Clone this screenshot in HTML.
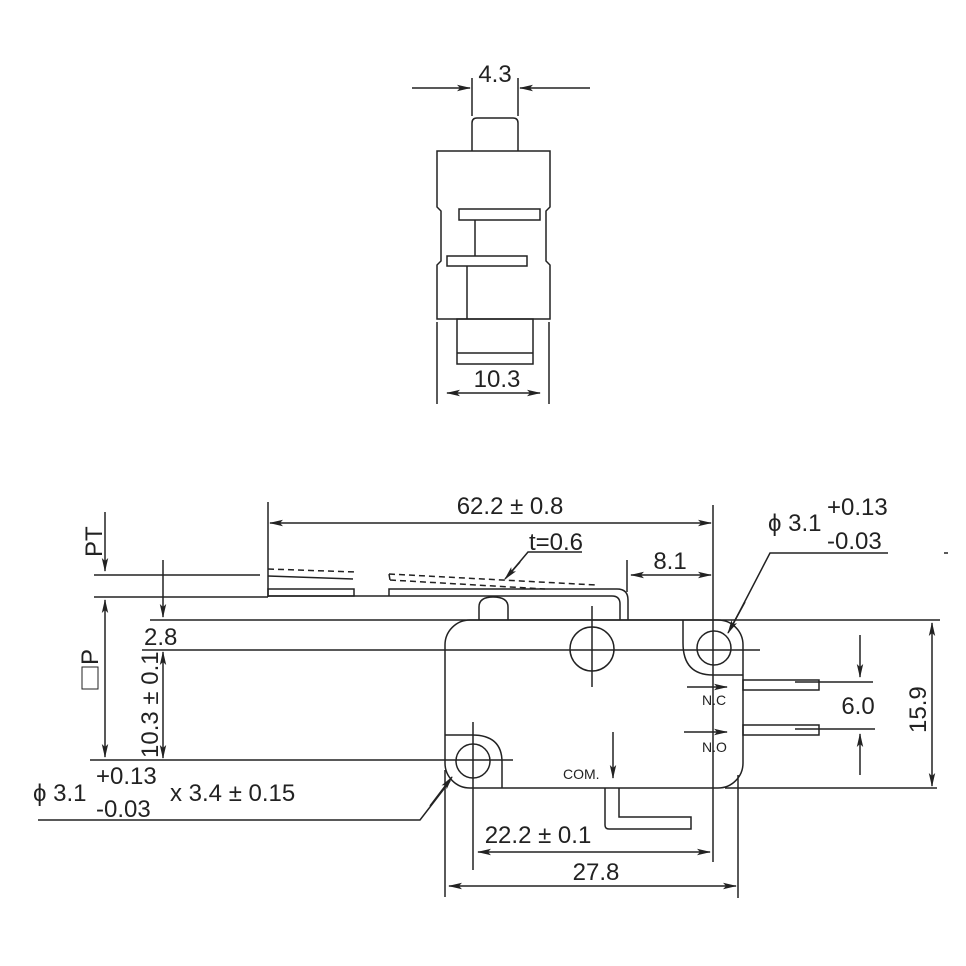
<!DOCTYPE html>
<html><head><meta charset="utf-8"><style>
html,body{margin:0;padding:0;background:#fff}
svg{display:block}
text{font-family:"Liberation Sans",Arial,sans-serif;fill:#222}
</style></head><body>
<svg width="966" height="966" viewBox="0 0 966 966" xmlns="http://www.w3.org/2000/svg">
<defs>
<marker id="a" markerWidth="14" markerHeight="8" refX="13" refY="4" orient="auto-start-reverse" markerUnits="userSpaceOnUse">
<path d="M0,0.8 L14,4 L0,7.2 L3,4 Z" fill="#222"/></marker>
</defs>
<g stroke="#222" stroke-width="1.5" fill="none">
<!-- TOP VIEW -->
<line x1="412" y1="88" x2="470" y2="88" marker-end="url(#a)"/>
<line x1="590" y1="88" x2="520" y2="88" marker-end="url(#a)"/>
<line x1="472" y1="78" x2="472" y2="116"/>
<line x1="518" y1="78" x2="518" y2="116"/>
<path d="M472,151 V123 Q472,118 477,118 H513 Q518,118 518,123 V151"/>
<path d="M437,151 H550 V207 L546,211 V261 L550,265 V319 H437 V265 L441,261 V211 L437,207 Z"/>
<rect x="459" y="209" width="81" height="11"/>
<line x1="475" y1="220" x2="475" y2="256"/>
<rect x="447" y="256" width="80" height="10"/>
<line x1="467" y1="266" x2="467" y2="319"/>
<rect x="457" y="319" width="76" height="45"/>
<line x1="457" y1="353" x2="533" y2="353"/>
<line x1="437" y1="322" x2="437" y2="404"/>
<line x1="549" y1="322" x2="549" y2="404"/>
<line x1="447" y1="393" x2="540" y2="393" marker-start="url(#a)" marker-end="url(#a)"/>

<!-- BOTTOM VIEW -->
<line x1="268" y1="502" x2="268" y2="597"/>
<line x1="713" y1="505" x2="713" y2="862"/>
<line x1="270" y1="523" x2="711" y2="523" marker-start="url(#a)" marker-end="url(#a)"/>
<line x1="105" y1="512" x2="105" y2="571" marker-end="url(#a)"/>
<line x1="94" y1="575" x2="260" y2="575"/>
<line x1="94" y1="597" x2="268" y2="597"/>
<line x1="163" y1="560" x2="163" y2="617" marker-end="url(#a)"/>
<line x1="105" y1="600" x2="105" y2="757" marker-start="url(#a)" marker-end="url(#a)"/>
<line x1="163" y1="652" x2="163" y2="758" marker-start="url(#a)" marker-end="url(#a)"/>
<line x1="150" y1="620" x2="940" y2="620"/>
<line x1="142" y1="650" x2="760" y2="650"/>
<line x1="90" y1="760" x2="513" y2="760"/>
<!-- lever -->
<rect x="268" y="589" width="86" height="7"/>
<path d="M268,596 H612 Q620,596 620,604 V620"/>
<path d="M389,596 V589 H617 Q628,589 628,600 V620"/>
<path d="M268,569 L356,572" stroke-dasharray="6,4"/>
<path d="M268,576 L353,579"/>
<path d="M389,574 L596,585 M390,580 L545,589 M389,574 L390,580" stroke-dasharray="6,4"/>
<path d="M582,552 H528 L507,577" />
<line x1="520" y1="562" x2="505" y2="579" marker-end="url(#a)"/>
<line x1="627" y1="560" x2="627" y2="592"/>
<line x1="631" y1="575" x2="711" y2="575" marker-start="url(#a)" marker-end="url(#a)"/>
<!-- body -->
<path d="M479,620 V607 Q479,597 493,597 Q508,597 508,607 V620"/>
<rect x="445" y="620" width="298" height="168" rx="25"/>
<path d="M683,620 V643 Q683,675 713,675 H743"/>
<circle cx="714" cy="648" r="17"/>
<circle cx="592" cy="649" r="22"/>
<line x1="592" y1="606" x2="592" y2="687"/>
<path d="M445,735 H472 Q502,735 502,762 V788"/>
<circle cx="473" cy="761" r="17"/>
<line x1="473" y1="722" x2="473" y2="870"/>
<!-- terminals -->
<rect x="743" y="680" width="76" height="10"/>
<rect x="743" y="725" width="76" height="10"/>
<line x1="795" y1="682" x2="873" y2="682"/>
<line x1="795" y1="729" x2="875" y2="729"/>
<line x1="860" y1="635" x2="860" y2="677" marker-end="url(#a)"/>
<line x1="860" y1="775" x2="860" y2="734" marker-end="url(#a)"/>
<line x1="725" y1="788" x2="937" y2="788"/>
<line x1="932" y1="623" x2="932" y2="786" marker-start="url(#a)" marker-end="url(#a)"/>
<line x1="687" y1="687" x2="727" y2="687" marker-end="url(#a)"/>
<line x1="684" y1="732" x2="727" y2="732" marker-end="url(#a)"/>
<line x1="613" y1="732" x2="613" y2="778" marker-end="url(#a)"/>
<path d="M605,788 V825 Q605,829 609,829 H691 V817 H619 V788"/>
<line x1="738" y1="775" x2="738" y2="898"/>
<line x1="445" y1="770" x2="445" y2="897"/>
<line x1="478" y1="852" x2="710" y2="852" marker-start="url(#a)" marker-end="url(#a)"/>
<line x1="449" y1="886" x2="736" y2="886" marker-start="url(#a)" marker-end="url(#a)"/>
<!-- leaders -->
<path d="M38,820 H420 L450,781"/>
<line x1="430" y1="806" x2="452" y2="777" marker-end="url(#a)"/>
<path d="M888,553 H770 L730,630"/>
<line x1="745" y1="602" x2="728" y2="633" marker-end="url(#a)"/>
<line x1="944" y1="553" x2="948" y2="553"/>
<rect x="82" y="667" width="16" height="22" stroke-width="1"/>
</g>
<g font-size="24">
<text x="495" y="82" text-anchor="middle">4.3</text>
<text x="497" y="387" text-anchor="middle">10.3</text>
<text x="510" y="514" text-anchor="middle">62.2 ± 0.8</text>
<text x="556" y="550" text-anchor="middle">t=0.6</text>
<text x="670" y="569" text-anchor="middle">8.1</text>
<text x="144" y="645">2.8</text>
<text x="858" y="714" text-anchor="middle">6.0</text>
<text x="538" y="843" text-anchor="middle">22.2 ± 0.1</text>
<text x="596" y="880" text-anchor="middle">27.8</text>
<text x="768" y="531">ϕ 3.1</text>
<text x="827" y="515">+0.13</text>
<text x="827" y="549">-0.03</text>
<text x="33" y="801">ϕ 3.1</text>
<text x="96" y="784">+0.13</text>
<text x="96" y="817">-0.03</text>
<text x="170" y="801">x 3.4 ± 0.15</text>
<text transform="translate(102,557) rotate(-90)">PT</text>
<text transform="translate(98,665) rotate(-90)">P</text>
<text transform="translate(158,758) rotate(-90)">10.3 ± 0.1</text>
<text transform="translate(926,733) rotate(-90)">15.9</text>
</g>
<g font-size="14">
<text x="702" y="705">N.C</text>
<text x="702" y="752">N.O</text>
<text x="563" y="779">COM.</text>
</g>
</svg>
</body></html>
